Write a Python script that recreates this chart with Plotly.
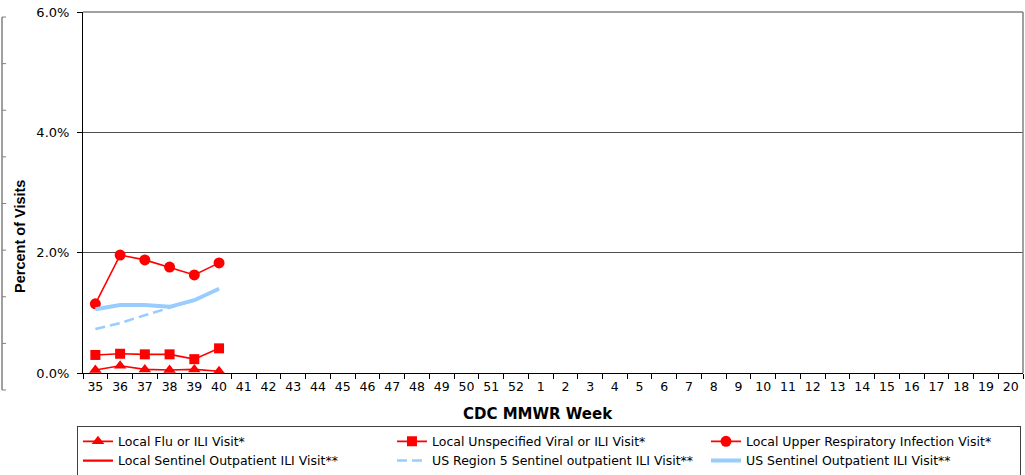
import plotly.graph_objects as go

weeks = [str(w) for w in range(35, 53)] + [str(w) for w in range(1, 21)]
data_weeks = ["35", "36", "37", "38", "39", "40"]

local_flu_ili = [0.05, 0.12, 0.06, 0.05, 0.06, 0.03]
local_unspecified = [0.30, 0.32, 0.31, 0.31, 0.23, 0.41]
local_uri = [1.15, 1.96, 1.88, 1.76, 1.63, 1.83]
local_sentinel = [None, None, None, None, None, None]
us_region5 = [0.73, 0.83, 0.96, 1.08, 1.21, 1.40]
us_sentinel = [1.06, 1.13, 1.13, 1.10, 1.21, 1.40]

y_ticks = [0, 2, 4, 6]
y_tick_labels = ["0.0%", "2.0%", "4.0%", "6.0%"]

RED = "#FF0000"
BLUE = "#99CCFF"
WIDE = "DejaVu Sans, sans-serif"
ARIAL = "Arial, Liberation Sans, sans-serif"

W, H = 1025, 475
ML, MR, MT, MB = 83, 2, 12, 102
PW, PH = W - ML - MR, H - MT - MB

fig = go.Figure()
fig.add_trace(go.Scatter(x=data_weeks, y=local_flu_ili, name="Local Flu or ILI Visit*",
                         mode="lines+markers", line=dict(color=RED, width=1.6),
                         marker=dict(symbol="triangle-up", size=11, color=RED)))
fig.add_trace(go.Scatter(x=data_weeks, y=local_unspecified, name="Local Unspecified Viral or ILI Visit*",
                         mode="lines+markers", line=dict(color=RED, width=1.6),
                         marker=dict(symbol="square", size=10, color=RED)))
fig.add_trace(go.Scatter(x=data_weeks, y=local_uri, name="Local Upper Respiratory Infection Visit*",
                         mode="lines+markers", line=dict(color=RED, width=1.6),
                         marker=dict(symbol="circle", size=11, color=RED)))
fig.add_trace(go.Scatter(x=data_weeks, y=local_sentinel, name="Local Sentinel Outpatient ILI Visit**",
                         mode="lines", line=dict(color=RED, width=2.2)))
fig.add_trace(go.Scatter(x=data_weeks, y=us_region5, name="US Region 5 Sentinel outpatient ILI Visit**",
                         mode="lines", line=dict(color=BLUE, width=2.5, dash="10px,5px")))
fig.add_trace(go.Scatter(x=data_weeks, y=us_sentinel, name="US Sentinel Outpatient ILI Visit**",
                         mode="lines", line=dict(color=BLUE, width=4)))

fig.update_layout(
    width=W, height=H,
    margin=dict(l=ML, r=MR, t=MT, b=MB, autoexpand=False),
    paper_bgcolor="white", plot_bgcolor="white",
    font=dict(family=WIDE, size=13, color="black"),
    showlegend=True,
    legend=dict(orientation="h", x=-0.0064, xanchor="left", y=-0.146, yanchor="top",
                entrywidth=269, entrywidthmode="pixels",
                bordercolor="#404040", borderwidth=1, bgcolor="white",
                font=dict(family=WIDE, size=12.5), traceorder="normal"),
    xaxis=dict(type="category", categoryorder="array", categoryarray=weeks,
               tickvals=weeks, ticktext=weeks, tickangle=0,
               range=[-0.5, len(weeks) - 0.5], tickson="boundaries",
               ticks="outside", ticklen=5, tickcolor="black", ticklabelstandoff=2,
               ticklabeloverflow="allow",
               showline=True, linecolor="black", linewidth=1,
               showgrid=False, tickfont=dict(family=WIDE, size=12.5)),
    yaxis=dict(range=[0, 6], tickvals=y_ticks, ticktext=y_tick_labels,
               ticks="outside", ticklen=5, tickcolor="black", ticklabelstandoff=5,
               ticklabeloverflow="allow",
               showline=True, linecolor="black", linewidth=1,
               showgrid=True, gridcolor="#505050", gridwidth=1, zeroline=False,
               tickfont=dict(family=WIDE, size=13)),
    annotations=[
        dict(text="<b>CDC MMWR Week</b>", xref="paper", yref="paper", x=0.484, y=-0.114,
             xanchor="center", yanchor="middle", showarrow=False,
             font=dict(family=WIDE, size=15)),
        dict(text="<b>Percent of Visits</b>", xref="paper", yref="paper", x=-0.067, y=0.377,
             xanchor="center", yanchor="middle", showarrow=False, textangle=-90,
             font=dict(family=ARIAL, size=14.5)),
    ],
)

# right and top plot border
fig.add_shape(type="line", xref="paper", yref="paper", x0=1, x1=1, y0=0, y1=1,
              line=dict(color="#808080", width=1.5))
fig.add_shape(type="line", xref="paper", yref="paper", x0=0, x1=1, y0=1, y1=1,
              line=dict(color="#808080", width=1.5))

# cropped neighbouring-chart edge visible at far left of the image
edge_x = (2 - ML) / PW
edge_top, edge_bottom = 17, 390
fig.add_shape(type="line", xref="paper", yref="paper", x0=edge_x, x1=edge_x,
              y0=(H - MB - edge_bottom) / PH, y1=(H - MB - edge_top) / PH,
              line=dict(color="#808080", width=1.5))
for i in range(9):
    py = edge_top + i * (edge_bottom - edge_top) / 8
    yy = (H - MB - py) / PH
    fig.add_shape(type="line", xref="paper", yref="paper", x0=edge_x, x1=edge_x + 4 / PW,
                  y0=yy, y1=yy, line=dict(color="#808080", width=1))

fig.write_html(
    "out.html",
    config={"displayModeBar": False},
    post_script="document.body.style.margin='0';document.body.style.overflow='hidden';",
)
